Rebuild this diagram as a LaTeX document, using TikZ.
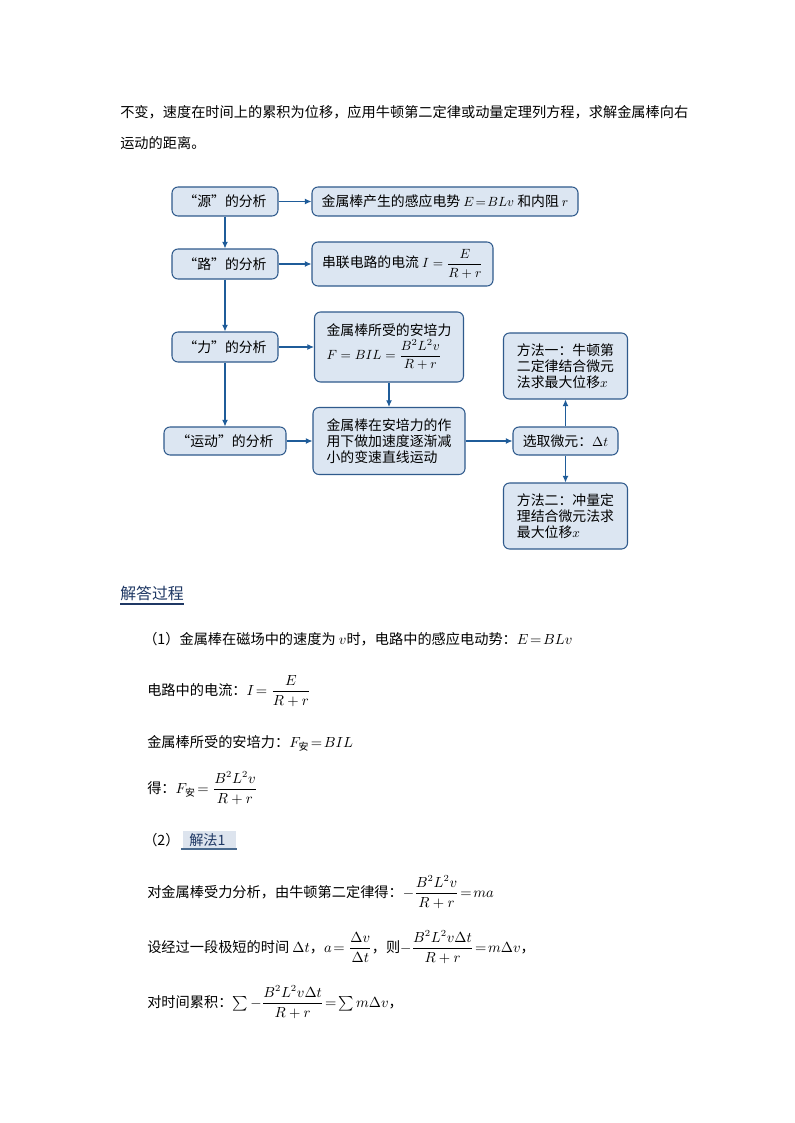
\documentclass[tikz,border=0pt]{standalone}
\usepackage{fontspec}
\usepackage{amsmath}
\setmainfont{Liberation Serif}
\newfontfamily\cjk{Noto Sans CJK SC}
\usetikzlibrary{arrows.meta}
\definecolor{boxfill}{HTML}{DCE6F2}
\definecolor{boxline}{HTML}{2F5A8C}
\definecolor{arrowc}{HTML}{1F5C99}
\definecolor{headc}{HTML}{1F3864}
\definecolor{hlfill}{HTML}{DDE4EE}
\definecolor{hlline}{HTML}{4A6A8E}
\tikzset{
  fbox/.style={draw=boxline, fill=boxfill, rounded corners=4.5pt, line width=0.8pt,
    inner sep=0pt, align=left, font=\cjk\fontsize{10.4}{12.2}\selectfont},
  arr/.style={draw=arrowc, line width=0.8pt, -{Latex[length=5pt,width=4.5pt]}},
  body/.style={anchor=base west, inner sep=0pt, font=\cjk\fontsize{10.65}{13}\selectfont}
}
\begin{document}
\begin{tikzpicture}[x=0.75pt,y=-0.75pt]
\useasboundingbox (0,0) rectangle (794,1123);
\fill[white] (0,0) rectangle (794,1123);

% top paragraph
\node[body] (p1) at (120,118) {不变，速度在时间上的累积为位移，应用牛顿第二定律或动量定理列方程，求解金属棒向右};
\node[body] (p2) at (120,149) {运动的距离。};

% flowchart
\node[fbox, minimum width=79.5pt, minimum height=21.75pt, align=center] (s1) at (225,201.5) {“源”的分析};
\node[fbox, minimum width=199.5pt, minimum height=21.75pt, align=center] (r1) at (445,201.5) {金属棒产生的感应电势 $E\!=\!BLv$ 和内阻 $r$};
\node[fbox, minimum width=79.5pt, minimum height=22.5pt, align=center] (s2) at (225,264) {“路”的分析};
\node[fbox, minimum width=135.75pt, minimum height=33pt, align=center] (r2) at (402.5,264) {串联电路的电流 $I=\dfrac{E}{R+r}$};
\node[fbox, minimum width=79.5pt, minimum height=22.5pt, align=center] (s3) at (225,347) {“力”的分析};
\node[fbox, minimum width=111.75pt, minimum height=52.5pt] (r3) at (389,347) {金属棒所受的安培力\\[1pt]$F=BIL=\dfrac{B^2L^2v}{R+r}$};
\node[fbox, minimum width=91.5pt, minimum height=21pt, align=center] (s4) at (225,441) {“运动”的分析};
\node[fbox, minimum width=114pt, minimum height=50.25pt] (r4) at (389,441) {金属棒在安培力的作\\用下做加速度逐渐减\\小的变速直线运动};
\node[fbox, minimum width=78.75pt, minimum height=21pt, align=center] (pk) at (565.5,441) {选取微元：$\Delta t$};
\node[fbox, minimum width=93pt, minimum height=49.5pt] (m1) at (565.5,366) {方法一：牛顿第\\二定律结合微元\\法求最大位移$x$};
\node[fbox, minimum width=93pt, minimum height=49.5pt] (m2) at (565.5,516) {方法二：冲量定\\理结合微元法求\\最大位移$x$};

\draw[arr] (s1) -- (s2);
\draw[arr] (s2) -- (s3);
\draw[arr] (s3) -- (s4);
\draw[arr] (s1) -- (r1);
\draw[arr] (s2) -- (r2);
\draw[arr] (s3) -- (r3);
\draw[arr] (s4) -- (r4);
\draw[arr] (r3) -- (r4);
\draw[arr] (r4) -- (pk);
\draw[arr] (pk) -- (m1);
\draw[arr] (pk) -- (m2);

% solution heading
\node[anchor=base west, inner sep=0pt, text=headc, font=\cjk\fontsize{11.9}{14}\selectfont] (h1) at (120,599) {解答过程};
\draw[headc, line width=1.6pt] (h1.south west) ++(0,3.5) coordinate (u1) -- (u1 -| h1.south east);

\node[body] (l1) at (143,644) {（1）金属棒在磁场中的速度为 $v$时，电路中的感应电动势：$E\!=\!BLv$};
\node[body] (l2) at (147,695) {电路中的电流：$I\!=\dfrac{E}{R+r}$};
\node[body] (l3) at (147,747) {金属棒所受的安培力：$F_{\text{安}}\!=\!BIL$};
\node[body] (l4) at (147,793) {得：$F_{\text{安}}\!=\dfrac{B^2L^2v}{R+r}$};

\node[body] (l5) at (143,845) {（2）};
\fill[hlfill] (183,831) rectangle (236,848);
\draw[hlline, line width=1.2pt] (181,849) -- (237,849);
\node[body, text=headc] (l5b) at (189,845) {解法1};

\node[body] (l6) at (147,897) {对金属棒受力分析，由牛顿第二定律得：$-\dfrac{B^2L^2v}{R+r}\!=\!ma$};
\node[body] (l7) at (147,952) {设经过一段极短的时间 $\Delta t$，$a\!=\dfrac{\Delta v}{\Delta t}$，则$-\dfrac{B^2L^2v\Delta t}{R+r}\!=\!m\Delta v$，};
\node[body] (l8) at (147,1007) {对时间累积：$\sum-\dfrac{B^2L^2v\Delta t}{R+r}\!=\!\sum m\Delta v$，};
\end{tikzpicture}
\end{document}
